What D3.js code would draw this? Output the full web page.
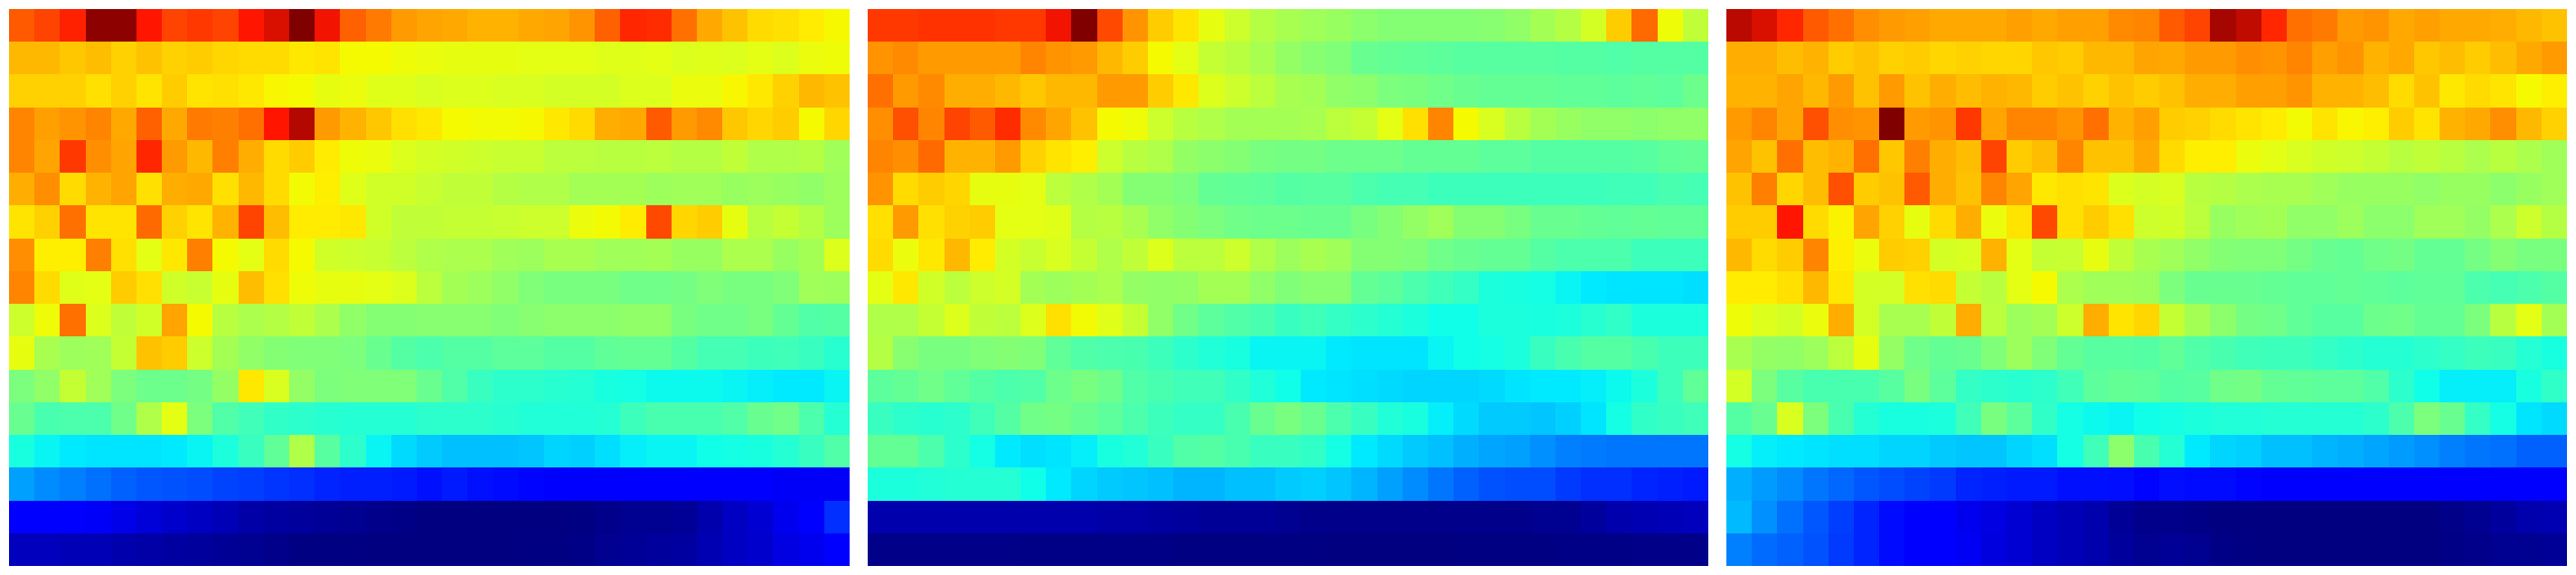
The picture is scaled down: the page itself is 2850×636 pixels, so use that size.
<!DOCTYPE html>
<html>
<head>
<meta charset="utf-8">
<script src="https://cdn.jsdelivr.net/npm/d3@7"></script>
<style>html,body{margin:0;padding:0;background:#fff;overflow:hidden}svg{display:block}</style>
</head>
<body>
<svg id="chart" width="2850" height="636"></svg>
<script>
const panelA = [
[84,86,89,99,99,90,86,87,86,90,93,100,91,83.5,81,78,77,76.5,75.5,75.5,76.5,77,78.5,83.5,88.5,88,82,76.5,74,71.5,71,69.5,66.5],
[75,75,73.5,74.5,72.5,74,72.5,73,72,71.5,71.5,70,70.5,66,66,65,64.5,64,64,64,63.5,63.5,63.5,63,63,63.5,62.5,63,62.5,63.5,62.5,64.5,65],
[72.5,72.5,72.5,71,72.5,70.5,73,70.5,71,70,67,66,64,64.5,63,63,62,62.5,62.5,62,62,61.5,61.5,61.5,62.5,62.5,64.5,64.5,67,70,72.5,75,74],
[80,77.5,78.5,80,76.5,83.5,76.5,81,80.5,82,90,96,78,75.5,73.5,71,70,66,65.5,65.5,66.5,70,71.5,76,76.5,84,78,79.5,73.5,72,73,66,72],
[80,77,87,79,77,88.5,78,75,80.5,76,71.5,73,69.5,65,64.5,62.5,61.5,61,60.5,60,60,58.5,58.5,58,58,58.5,57.5,57.5,59,57,57,57.5,55],
[76,79,71.5,75.5,77,71,76,76.5,71,75,71.5,65.5,69,63,61,61,60,59,59,57.5,57,57,55.5,55.5,55.5,54.5,55,55,54,54.5,54,53,54.5],
[70.5,72.5,82,70.5,70.5,82.5,72.5,70.5,75.5,86,74.5,69.5,69.5,70,61,59,59,59.5,59.5,60,60.5,60.5,64.5,65.5,69.5,85.5,72,73,64,58,59.5,57.5,54.5],
[79,69,69,80.5,71,63.5,70,80.5,66,63.5,71.5,66,61,60.5,60,58.5,57,56.5,56.5,55,54.5,56,56,55,55,55.5,54,54,56.5,56.5,54,55.5,62.5],
[80,71.5,63,63.5,73,71,61,60,64,74.5,71,65,64,64,63.5,62.5,58.5,55.5,54.5,53,51,50,50,50,49,49,49.5,51,50,50,51,55,54.5],
[60.5,65,82,62.5,59,61,77,66,58,56.5,57.5,59,56.5,53,51.5,51.5,52,52,52,51,52,52.5,52.5,52.5,53,53,50,49,49,50,47.5,45,45.5],
[64,56,54.5,55,59.5,74,73,60.5,55.5,53,51.5,51,51,50.5,48,45.5,44.5,45.5,45.5,46.5,46.5,45.5,45.5,47,47.5,47.5,45.5,43.5,43.5,42.5,43,42,40],
[50.5,53,59.5,55,50.5,48.5,48.5,49.5,53.5,70,62,53.5,50.5,51,51,51,48,45,42,40.5,40.5,40,39.5,38,37.5,36.5,36.5,36.5,36,35.5,35,35,36],
[48,44,44.5,44.5,49,57,63.5,50.5,45,43,41,40.5,40,39.5,39.5,39.5,40.5,40.5,40.5,40,39,39,39,39.5,42.5,44,44,44,45,48,49,44.5,39.5],
[38,36,35,34.5,34.5,34.5,35,36,38.5,42,47,57,46,40.5,36,33.5,32,31,31,31,31.5,33,32.5,34,35.5,36,36,37,37.5,38,39.5,42,45],
[28,26,25,23.5,22,21,20.5,20,19,18.5,17.5,17,16,15.5,15.5,15,14,15,14,13,12,11.5,11.5,11.5,11.5,11.5,11.5,11.5,11.5,11.5,11,11,11],
[11.5,11.5,11.5,11,9.5,8,7,6,5,3.5,3,2.5,2,1.5,1,0.5,0,0,0,0,0,0,0.3,1,1.5,1.5,2,4,6,7.5,10,11.5,17],
[5.5,5.5,5,5,4,3.5,3,2.5,2,1.5,1,0.3,0.3,0.2,0,0,0,0,0,0,0.2,0.3,0.5,1.5,2,2.5,3,4.5,6,7,9,10,11.5]
];
const panelB = [
[87,87,87.5,87.5,87.5,87,87,91,100,85.5,78.5,73,70.5,64,60.5,57.5,56,55,54,52.5,51.5,51.5,51.5,51.5,52,53,55.5,57.5,61.5,73,82.5,65,59],
[78.5,79.5,78,78,78,78,80,78.5,78,75,73,66,63.5,59.5,58,56,53.5,52,51,48,47.5,47,46.5,46,46,46,46,45.5,45.5,45,45.5,45.5,45.5],
[82,78,79.5,76,76,75,73.5,75,75,78,78,73,70,62.5,60.5,58.5,56,55.5,53,52.5,50.5,50,49,48,47.5,47.5,47.5,47,47,46.5,47,46.5,48.5],
[79,85,80,86,84,88,79.5,77,74,66,65,60.5,58,57,55.5,55.5,55.5,56,58.5,59.5,63.5,71,80,66,62,58,55.5,54,53,53,52.5,53,53],
[80,79,82.5,75.5,75.5,78,72.5,70.5,69,60.5,58,57,53.5,52.5,51.5,50,49.5,49.5,48.5,48.5,48.5,47.5,47.5,47.5,46.5,46.5,45.5,45.5,45.5,45.5,46,47,47.5],
[78.5,71.5,73,72,64,64,63.5,58.5,57,55.5,51.5,51.5,50.5,47.5,47,46.5,45.5,46,46,44.5,43.5,43.5,42.5,42.5,42.5,42.5,42.5,42.5,42.5,43,43,44,43.5],
[71,78,71,72.5,73,63.5,63.5,63,57.5,58,56,53,51.5,50.5,49,48.5,48.5,48,48,50,51.5,53.5,55,51.5,51.5,50,48,48,47.5,47,47.5,47,47],
[71.5,64.5,70,75,69.5,61.5,60,62,59.5,57,59,62.5,58.5,58.5,60.5,57,54.5,56,55,51.5,51.5,51,49,48,47.5,47.5,45.5,44.5,44.5,44.5,42.5,42.5,42.5],
[63.5,70,61,58.5,60.5,61.5,55.5,54.5,55.5,56.5,53.5,53,53.5,55.5,55.5,53,51,52,52,47.5,46.5,44.5,43,41.5,38.5,38,37.5,36,35,34.5,34.5,34.5,34],
[57,57,59.5,62.5,59,58.5,62.5,71,65.5,63,59.5,53,49,46.5,45,44,42,43,41.5,40.5,39.5,38.5,37,37,38.5,38.5,38,38.5,40,41,38.5,38.5,38.5],
[57.5,52,50,50,51,51.5,51,47,45,44.5,44,42.5,40.5,39,38,36,36,36,35,34.5,34.5,34.5,36,37,37.5,38.5,42,44,45.5,45.5,44,42.5,42.5],
[46.5,47.5,49,47,45.5,44.5,45,48.5,50,48.5,45,44,43,43,41,39,37,35,34.5,34,33.5,33,33,33,33.5,34.5,35,35,35.5,36.5,38.5,42.5,47],
[42,40.5,40,40.5,43,45.5,49,49.5,48,46.5,44.5,42.5,41.5,41.5,44,48,50,48,44.5,42,39,38,35.5,33.5,32,32,31.5,32.5,34.5,37.5,41,42,43],
[47.5,47.5,44.5,40.5,37.5,35,34,34.5,35.5,38,39,42,45,45.5,44,42,42,41,37.5,35,33.5,32,31,29.5,28.5,28,26.5,25,24.5,24,24,24,24],
[38.5,38.5,39,39.5,39.5,39.5,37,35,33,32,31.5,31,30,30,31,31,32,32.5,31.5,30,28,26,24,22,20.5,20,20,18,17,17,16,15.5,15],
[4,4,4,4,4,4,4,4,4,3.5,3.5,3,2.5,2,2,2,1.5,1,1,1,1,1,1,1,1,1,1.5,1.5,2.5,4,4.5,5,5.5],
[0.8,0.8,0.8,0.8,0.8,0.8,0.5,0.5,0.5,0.5,0.5,0.5,0.3,0.3,0.3,0.3,0.3,0.2,0,0,0,0,0,0.3,0.3,0.3,0.3,0.5,0.5,0.5,0.8,0.8,0.8]
];
const panelC = [
[95.5,93,88.5,84,82,79,78,77.5,76.5,76.5,76.5,77.5,76.5,77.5,77.5,79.5,80,84,86,97,95,88.5,82,81,78,78.5,76.5,77.5,76.5,76.5,76,75,74],
[76,76,74.5,75.5,73,74,72.5,73,72,72.5,72,72,73.5,73,75,75,77,76.5,78,78,79,78.5,80,77.5,78.5,75.5,76.5,73.5,74.5,73,74.5,76.5,78],
[75.5,75.5,77,75,78,74,78,74,76,74.5,75.5,75,73,74,72.5,74,73,74,76,76,77.5,77.5,78.5,75.5,75.5,74.5,71.5,74,70,71.5,70.5,66,69],
[78,80,77,85,79,78.5,100,78,78.5,87,77,80,80,78.5,82,75.5,77.5,73,72.5,71.5,70.5,69.5,65.5,70.5,67,69,73,70.5,75.5,76.5,79,75,72.5],
[77,74,82,74.5,75.5,82,73.5,80.5,76,74.5,86,73,74.5,80,74,74,76.5,71.5,69,69,64.5,63.5,62,61,60.5,59.5,58,59,58,56.5,58,56.5,55],
[74,80.5,72,74.5,85,73,74,84,76,74,80,77,70,71,70.5,62.5,61.5,62,58,57.5,56.5,56,56,55,54,54,54,53,54,54,52.5,54,55],
[73,73,90,71.5,68,77,72.5,64,71.5,76,64.5,70.5,85.5,71,73,71,60.5,61,58.5,54,55,55.5,53,53,54.5,52.5,52.5,55,55,53.5,56.5,60.5,57.5],
[75,71.5,73,80,69,64.5,73,72.5,61.5,62,75.5,63.5,59.5,60,64,59,56,55,53,51.5,51,51,49.5,48,47.5,49,49.5,47.5,47.5,49.5,51.5,50,50],
[69.5,69.5,71,75,70,61.5,61.5,71,71.5,59.5,58,63.5,66,56.5,55,55,54.5,50.5,48,48,48,47.5,47,47,47.5,47,46.5,47,47,44.5,43.5,44.5,45.5],
[65,62.5,61.5,64.5,76,61.5,56,56,59,76,58.5,54.5,55.5,60.5,76,70.5,72,59.5,55.5,52.5,49.5,49,47,46,46,48.5,49,47.5,47.5,50.5,58,63.5,55.5],
[56,53.5,53,54.5,58.5,64,53.5,49,47.5,48,51,54.5,51,47.5,46,46,45.5,47,45,44,43,42.5,42.5,41.5,40.5,39.5,39.5,40.5,41.5,42.5,42,39.5,38],
[61.5,50.5,46,44,44,44,46,50,46.5,41.5,40.5,40,40.5,43,46.5,47.5,47,45.5,46,49,49.5,47.5,47,46.5,46.5,45,40.5,37,35.5,35.5,35.5,38,41],
[45.5,48,62,50.5,44,39.5,38,38,38.5,43,50,46.5,41,37.5,36.5,36,37,37.5,38.5,39,39,39.5,39.5,39.5,39.5,40.5,44.5,50.5,48,41.5,37.5,34.5,33.5],
[37.5,35.5,35,34.5,34,34,33,33,32,31.5,31.5,33,34,37.5,43,52.5,44,39.5,35,33,32.5,31,31,30,29.5,28.5,27.5,26.5,25,24,23.5,22,22],
[29.5,27.5,26,24,22.5,21,20,19,18,16,15.5,15,15,14,14,13.5,12,13.5,13,13,12,11.5,11.5,11.5,11.5,11.5,11.5,11.5,11.5,11.5,11.5,11.5,11.5],
[30.5,26.5,23.5,21,18.5,16,13,11.5,11.5,10,9,7.5,6,5,4,2,1,1,0.5,0,0,0,0,0,0,0,0,0,0.8,1.5,2.5,4,4.5],
[25,23,22,20.5,18,16,13,11.5,11.5,10.5,8.5,7.5,6,5,4,2.5,1.5,2,1.5,0.5,0.2,0,0,0,0,0,0,0,0.5,1,1.5,1.5,2]
];
const panels = [panelA, panelB, panelC];
const colorStops = [0, 11.5, 14, 25, 35, 37, 63, 66, 69.5, 71, 77, 83.5, 90, 100];
const colorValues = ["#000080","#0000ff","#0010ff","#0080ff","#00eaff","#10ffe8","#e0ff18","#f5fa00","#ffec00","#ffe000","#ffa400","#ff6000","#ff1500","#800000"];

const svg = d3.select("#chart");
const color = d3.scaleLinear().domain(colorStops).range(colorValues).interpolate(d3.interpolateRgb).clamp(true);
const panelX = d3.scaleBand().domain(d3.range(panels.length)).range([10, 2840]).paddingInner(20 / 950);
const rowCount = panelA.length, colCount = panelA[0].length;
const yScale = d3.scaleLinear().domain([0, rowCount]).range([10, 626]);
const xScale = d3.scaleLinear().domain([0, colCount]).range([0, panelX.bandwidth()]);

panels.forEach((panel, p) => {
  const offset = panelX(p);
  const g = svg.append("g").attr("class", "panel").attr("shape-rendering", "crispEdges");
  const cells = panel.flatMap((row, r) => row.map((v, c) => ({ r, c, v })));
  g.selectAll("rect").data(cells).join("rect")
    .attr("x", d => Math.round(offset + xScale(d.c)))
    .attr("y", d => Math.round(yScale(d.r)))
    .attr("width", d => Math.round(offset + xScale(d.c + 1)) - Math.round(offset + xScale(d.c)))
    .attr("height", d => Math.round(yScale(d.r + 1)) - Math.round(yScale(d.r)))
    .attr("fill", d => color(d.v));
});
</script>
</body>
</html>
